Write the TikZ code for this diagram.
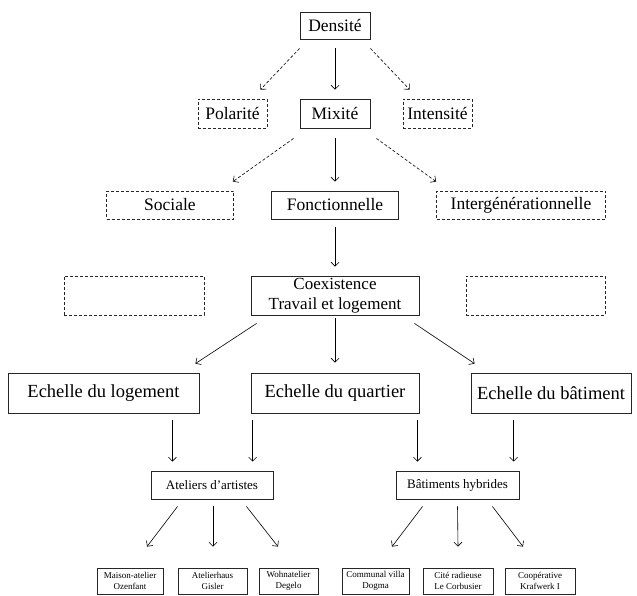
\documentclass[tikz,border=0pt]{standalone}
\usepackage{fontspec}
\setmainfont{Liberation Serif}
\usetikzlibrary{calc}
\usetikzlibrary{arrows.meta}
\tikzset{
  bloc/.style={draw=black!85, line width=0.8pt, inner sep=1pt, align=center},
  blocpointille/.style={bloc, dash pattern=on 3pt off 2pt},
  fleche/.style={-{Straight Barb[length=4pt,width=8pt]}, line width=0.6pt},
  flechepointillee/.style={fleche, dash pattern=on 3pt off 2pt},
}
\newcommand{\taillea}{\fontsize{17.5}{20}\selectfont}
\newcommand{\tailleb}{\fontsize{17.5}{20}\selectfont}
\newcommand{\taillec}{\fontsize{17}{20}\selectfont}
\newcommand{\tailled}{\fontsize{18.5}{21}\selectfont}
\newcommand{\taillee}{\fontsize{13}{15}\selectfont}
\newcommand{\taillef}{\fontsize{9}{10.5}\selectfont}

\begin{document}
\begin{tikzpicture}[x=1pt,y=-1pt]
\useasboundingbox (0,0) rectangle (637,596);
% niveau 1
\node[bloc, minimum width=70pt, minimum height=27pt, font=\taillea] (dens) at (335,25.5) {Densité};
\node[blocpointille, minimum width=69pt, minimum height=29pt, font=\taillea] (pol) at (232.5,113.5) {Polarité};
\node[bloc, minimum width=70pt, minimum height=29pt, font=\taillea] (mix) at (335,113.5) {Mixité};
\node[blocpointille, minimum width=69pt, minimum height=29pt, font=\taillea] (int) at (437.5,113.5) {Intensité};
% niveau 2
\node[blocpointille, minimum width=127pt, minimum height=28pt, font=\tailleb] (soc) at (170,205) {Sociale};
\node[bloc, minimum width=127pt, minimum height=28pt, font=\tailleb] (fonc) at (335,205) {Fonctionnelle};
\node[blocpointille, minimum width=169pt, minimum height=28pt, font=\tailleb] (inter) at (521,205) {Intergénérationnelle};
% niveau 3
\node[blocpointille, minimum width=140pt, minimum height=39pt] (videg) at (134,295.5) {};
\node[bloc, minimum width=168pt, minimum height=39pt, font=\taillec] (coex) at (335,295.5) {Coexistence\\Travail et logement};
\node[blocpointille, minimum width=139pt, minimum height=39pt] (vided) at (535.5,295.5) {};
% echelles
\node[bloc, minimum width=191pt, minimum height=40pt, font=\tailled] (log) at (103.5,393) {Echelle du logement};
\node[bloc, minimum width=168pt, minimum height=40pt, font=\tailled] (quart) at (335,393) {Echelle du quartier};
\node[bloc, minimum width=160pt, minimum height=40pt, font=\tailled] (bat) at (551,393) {Echelle du bâtiment};
% familles
\node[bloc, minimum width=122pt, minimum height=28pt, font=\taillee] (ate) at (212,485) {Ateliers d'artistes};
\node[bloc, minimum width=123pt, minimum height=28pt, font=\taillee] (bh) at (457.5,485) {Bâtiments hybrides};
% exemples
\node[bloc, minimum width=66pt, minimum height=26pt, font=\taillef] (mais) at (130,581) {Maison-atelier\\Ozenfant};
\node[bloc, minimum width=69pt, minimum height=26pt, font=\taillef] (gis) at (212.5,581) {Atelierhaus\\Gisler};
\node[bloc, minimum width=59pt, minimum height=26pt, font=\taillef] (deg) at (288.5,581) {Wohnatelier\\Degelo};
\node[bloc, minimum width=67pt, minimum height=26pt, font=\taillef] (dog) at (375.5,581) {Communal villa\\Dogma};
\node[bloc, minimum width=70pt, minimum height=26pt, font=\taillef] (cor) at (458,581) {Cité radieuse\\Le Corbusier};
\node[bloc, minimum width=70pt, minimum height=26pt, font=\taillef] (kra) at (540,581) {Coopérative\\Krafwerk I};
% fleches depuis Densite
\draw[flechepointillee] ($(dens.south west)+(0,-9pt)$) -- ($(pol.north east)+(-7pt,9pt)$);
\draw[fleche] ($(dens.south)+(0,-9pt)$) -- ($(mix.north)+(0,9pt)$);
\draw[flechepointillee] ($(dens.south east)+(0,-9pt)$) -- ($(int.north west)+(7pt,9pt)$);
% fleches depuis Mixite
\draw[flechepointillee] ($(mix.south west)+(-6pt,-10pt)$) -- ($(soc.north east)+(-1pt,9pt)$);
\draw[fleche] ($(mix.south)+(0,-10pt)$) -- ($(fonc.north)+(0,9pt)$);
\draw[flechepointillee] ($(mix.south east)+(6pt,-10pt)$) -- ($(inter.north west)+(0,9pt)$);
\draw[fleche] ($(fonc.south)+(0,-8pt)$) -- ($(coex.north)+(0,9pt)$);
% fleches vers les echelles
\draw[fleche] ($(coex.south west)+(6pt,-8pt)$) -- ($(log.north east)+(-4pt,9pt)$);
\draw[fleche] ($(coex.south)+(0,-3pt)$) -- ($(quart.north)+(0,10pt)$);
\draw[fleche] ($(coex.south east)+(-5pt,-8pt)$) -- ($(bat.north west)+(4pt,9pt)$);
% fleches vers les familles
\draw[fleche] ($(log.south east)+(-27pt,-7pt)$) -- ($(log.south east |- ate.north)+(-27pt,9pt)$);
\draw[fleche] ($(quart.south west)+(2pt,-7pt)$) -- ($(quart.south west |- ate.north)+(2pt,9pt)$);
\draw[fleche] ($(quart.south east)+(-2pt,-7pt)$) -- ($(quart.south east |- bh.north)+(-2pt,9pt)$);
\draw[fleche] ($(bat.south west)+(43pt,-7pt)$) -- ($(bat.south west |- bh.north)+(43pt,9pt)$);
% fleches vers les exemples
\draw[fleche] ($(ate.south west)+(27pt,-7pt)$) -- ($(mais.north)+(17pt,21pt)$);
\draw[fleche] ($(ate.south)+(1pt,-7pt)$) -- ($(gis.north)+(0.5pt,21pt)$);
\draw[fleche] ($(ate.south east)+(-27pt,-7pt)$) -- ($(deg.north)+(-10.5pt,21pt)$);
\draw[fleche] ($(bh.south west)+(27pt,-7pt)$) -- ($(dog.north)+(16.5pt,21pt)$);
\draw[fleche] ($(bh.south)+(0,-7pt)$) -- ($(cor.north)+(0,21pt)$);
\draw[fleche] ($(bh.south east)+(-27pt,-7pt)$) -- ($(kra.north)+(-17pt,21pt)$);
\end{tikzpicture}
\end{document}
